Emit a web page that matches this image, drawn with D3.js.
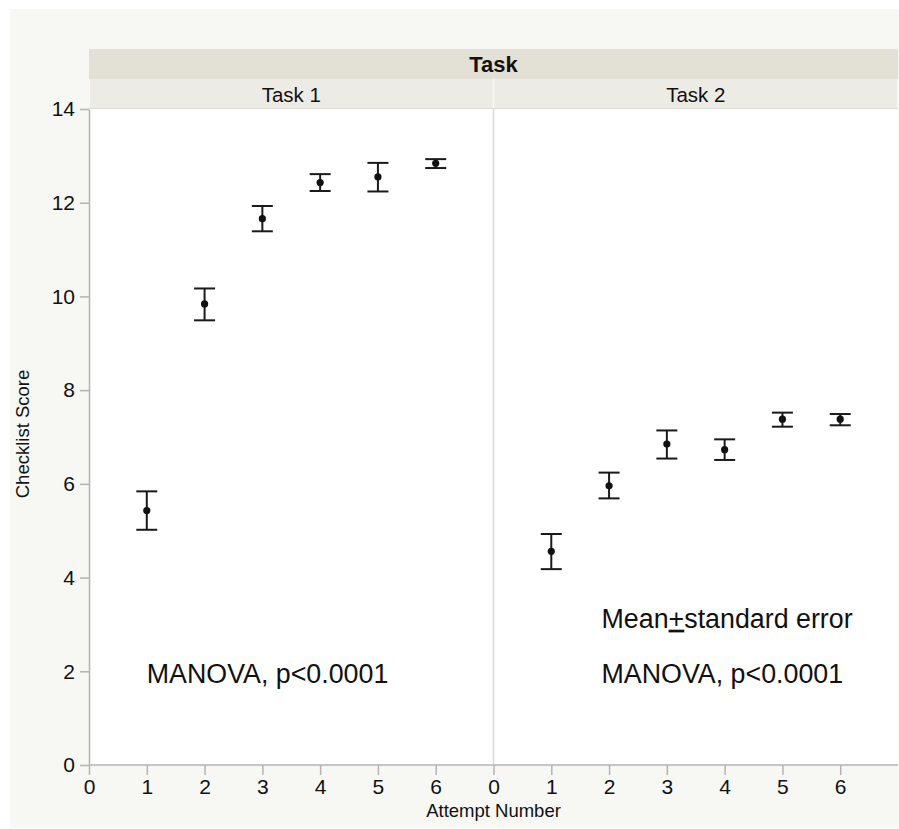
<!DOCTYPE html>
<html>
<head>
<meta charset="utf-8">
<script src="https://cdn.jsdelivr.net/npm/d3@7"></script>
<style>
  body { margin: 0; background: #fff; }
  svg text { font-family: "Liberation Sans", Arial, Helvetica, sans-serif; fill: #111; }
  .axis path, .axis line { stroke: #b3b3b3; stroke-width: 1.5; }
</style>
</head>
<body>
<svg id="chart" width="899" height="829"></svg>
<script>
// data
var panels = ['Task 1', 'Task 2'];
var attempts = [1, 2, 3, 4, 5, 6];
var task1Mean = [5.43, 9.84, 11.66, 12.43, 12.55, 12.84];
var task1Low  = [5.02, 9.49, 11.39, 12.25, 12.24, 12.74];
var task1High = [5.84, 10.17, 11.93, 12.61, 12.85, 12.93];
var task2Mean = [4.56, 5.96, 6.85, 6.73, 7.38, 7.38];
var task2Low  = [4.18, 5.69, 6.54, 6.51, 7.22, 7.25];
var task2High = [4.93, 6.24, 7.14, 6.95, 7.52, 7.49];
var xTicks = [0, 1, 2, 3, 4, 5, 6];
var yTicks = [0, 2, 4, 6, 8, 10, 12, 14];

var series = [
  { mean: task1Mean, low: task1Low, high: task1High },
  { mean: task2Mean, low: task2Low, high: task2High }
];

var svg = d3.select('#chart');

var plotLeft = 89, plotRight = 898, plotTop = 109, plotBottom = 765;
var panelW = (plotRight - plotLeft) / panels.length;

// outer background
svg.append('rect')
  .attr('x', 10).attr('y', 9)
  .attr('width', 889).attr('height', 819)
  .attr('fill', '#f7f7f3');

// header band
svg.append('rect')
  .attr('x', plotLeft).attr('y', 49)
  .attr('width', plotRight - plotLeft).attr('height', 30)
  .attr('fill', '#e3e0d5');
svg.append('text')
  .attr('x', (plotLeft + plotRight) / 2).attr('y', 71.5)
  .attr('text-anchor', 'middle')
  .style('font-size', '22px').style('font-weight', 'bold')
  .text('Task');

var y = d3.scaleLinear().domain([0, 14]).range([plotBottom, plotTop]);

panels.forEach(function(name, p) {
  var x0 = plotLeft + p * panelW;
  var x = d3.scaleLinear().domain([0, 7]).range([x0, x0 + panelW]);

  svg.append('rect')
    .attr('x', x0 + 1).attr('y', 79)
    .attr('width', panelW - 2).attr('height', 29)
    .attr('fill', '#ecebe5');
  svg.append('line')
    .attr('x1', x0).attr('x2', x0 + panelW)
    .attr('y1', 108.5).attr('y2', 108.5)
    .attr('stroke', '#dddcd4');
  svg.append('text')
    .attr('x', x0 + panelW / 2).attr('y', 101.5)
    .attr('text-anchor', 'middle')
    .style('font-size', '20.5px')
    .text(name);

  // plot area
  svg.append('rect')
    .attr('x', x0).attr('y', plotTop)
    .attr('width', panelW).attr('height', plotBottom - plotTop)
    .attr('fill', '#fff');

  if (p > 0) {
    svg.append('line')
      .attr('x1', x0).attr('x2', x0)
      .attr('y1', plotTop).attr('y2', plotBottom)
      .attr('stroke', '#d9d9d9').attr('stroke-width', 1.5);
  }

  var xAxis = d3.axisBottom(x).tickValues(xTicks).tickFormat(d3.format('d'))
    .tickSize(10).tickPadding(4).tickSizeOuter(0);
  var gx = svg.append('g')
    .attr('class', 'axis')
    .attr('transform', 'translate(0,' + plotBottom + ')')
    .call(xAxis);
  gx.select('.domain').attr('d', 'M' + x0 + ',0H' + (x0 + panelW));
  gx.selectAll('text').attr('font-size', 21).attr('fill', '#111');

  var s = series[p];
  var g = svg.append('g');
  attempts.forEach(function(a, i) {
    g.append('line')
      .attr('x1', x(a)).attr('x2', x(a))
      .attr('y1', y(s.low[i])).attr('y2', y(s.high[i]))
      .attr('stroke', '#1a1a1a').attr('stroke-width', 2);
    [s.low[i], s.high[i]].forEach(function(v) {
      g.append('line')
        .attr('x1', x(a) - 10.5).attr('x2', x(a) + 10.5)
        .attr('y1', y(v)).attr('y2', y(v))
        .attr('stroke', '#1a1a1a').attr('stroke-width', 2);
    });
    g.append('circle')
      .attr('cx', x(a)).attr('cy', y(s.mean[i]))
      .attr('r', 3.6)
      .attr('fill', '#111');
  });

  // annotations
  var ax = p === 0 ? x(1.0) : x(1.87);
  svg.append('text')
    .attr('x', ax).attr('y', y(1.74))
    .style('font-size', '26.8px')
    .text('MANOVA, p<0.0001');
  if (p === 1) {
    var t = svg.append('text')
      .attr('x', ax).attr('y', y(2.93))
      .style('font-size', '26.8px');
    t.append('tspan').text('Mean');
    t.append('tspan').style('text-decoration', 'underline').text('+');
    t.append('tspan').text('standard error');
  }
});

// y axis
var yAxis = d3.axisLeft(y).tickValues(yTicks).tickSize(9).tickPadding(5).tickSizeOuter(0);
var gy = svg.append('g')
  .attr('class', 'axis')
  .attr('transform', 'translate(' + plotLeft + ',0)')
  .call(yAxis);
gy.selectAll('text').attr('font-size', 21).attr('fill', '#111');

// axis titles
svg.append('text')
  .attr('transform', 'translate(29,434) rotate(-90)')
  .attr('text-anchor', 'middle')
  .style('font-size', '18.5px')
  .text('Checklist Score');

svg.append('text')
  .attr('x', (plotLeft + plotRight) / 2).attr('y', 817)
  .attr('text-anchor', 'middle')
  .style('font-size', '18.5px')
  .text('Attempt Number');
</script>
</body>
</html>
